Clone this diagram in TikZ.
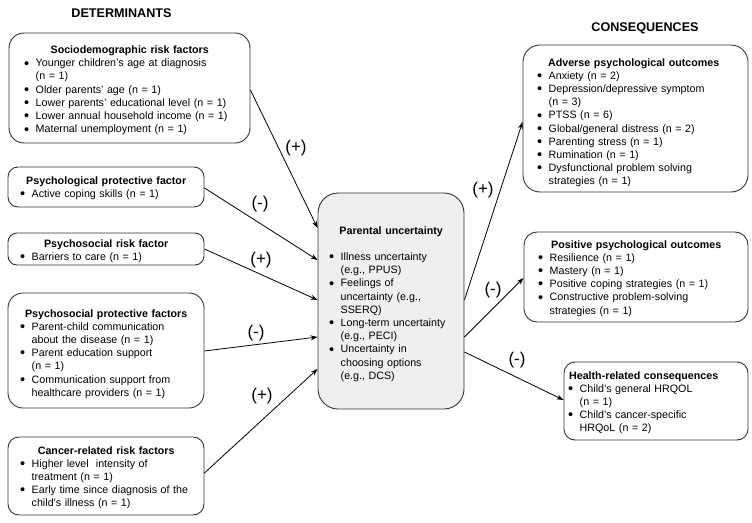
\documentclass[tikz,border=0pt]{standalone}
\usepackage{fontspec}
\setmainfont{Liberation Sans}
\usetikzlibrary{arrows.meta}
\newcommand{\bxtitle}[1]{{\centering\bfseries #1\par}}
\newcommand{\bxbullet}{\raisebox{-1.3pt}{\fontsize{14.5}{13}\selectfont\textbullet}}
\newcommand{\bxitem}[1]{\hangindent=11.5pt\hangafter=1\noindent\makebox[11.5pt][l]{\bxbullet}#1\par}
\definecolor{edgegray}{HTML}{333333}
\definecolor{centerfill}{HTML}{EFEFF1}
\begin{document}
\begin{tikzpicture}[x=1pt,y=-1pt,
  box/.style={draw=edgegray, line width=0.9pt, rectangle, inner sep=0pt},
  txt/.style={inner sep=0pt, anchor=base west, align=left,
    font=\fontsize{10.7}{13.2}\selectfont},
  head/.style={inner sep=0pt, anchor=base, font=\fontsize{12.6}{14}\selectfont\bfseries},
  sign/.style={inner sep=0pt, font=\fontsize{17}{19}\selectfont},
  arr/.style={line width=0.8pt, -{Stealth[length=7pt,width=5pt]}}]
\useasboundingbox (0,0) rectangle (752,522);

% headings
\node[head] (hd) at (121.5,17) {DETERMINANTS};
\node[head] (hc) at (645,31) {CONSEQUENCES};

% boxes
\node[box, rounded corners=15pt, minimum width=241pt, minimum height=110pt] (b1) at (129.5,88) {};
\node[box, rounded corners=10pt, minimum width=196pt, minimum height=40pt] (b2) at (106,187) {};
\node[box, rounded corners=9pt, minimum width=196pt, minimum height=32pt] (b3) at (106,249) {};
\node[box, rounded corners=15pt, minimum width=196pt, minimum height=115pt] (b4) at (106,350.5) {};
\node[box, rounded corners=11pt, minimum width=196pt, minimum height=78pt] (b5) at (106,476) {};
\node[box, fill=centerfill, rounded corners=20pt, minimum width=146pt, minimum height=216pt] (c) at (391,301) {};
\node[box, rounded corners=17pt, minimum width=225pt, minimum height=147pt] (ra) at (635.5,118.5) {};
\node[box, rounded corners=13pt, minimum width=224pt, minimum height=90pt] (rp) at (636,277) {};
\node[box, rounded corners=11pt, minimum width=184pt, minimum height=78pt] (rh) at (656,401) {};

% texts
\node[txt, text width=211pt] (t1) at (24,53.5) {\bxtitle{Sociodemographic risk factors}%
\bxitem{Younger children's age at diagnosis\newline (n = 1)}%
\bxitem{Older parents' age (n = 1)}%
\bxitem{Lower parents' educational level (n = 1)}%
\bxitem{Lower annual household income (n = 1)}%
\bxitem{Maternal unemployment (n = 1)}};

\node[txt, text width=172pt] (t2) at (20,184) {\bxtitle{Psychological protective factor}%
\bxitem{Active coping skills (n = 1)}};

\node[txt, text width=172pt] (t3) at (20,247) {\bxtitle{Psychosocial risk factor}%
\bxitem{Barriers to care (n = 1)}};

\node[txt, text width=172pt] (t4) at (20,317) {\bxtitle{Psychosocial protective factors}%
\bxitem{Parent-child communication\newline about the disease (n = 1)}%
\bxitem{Parent education support\newline (n = 1)}%
\bxitem{Communication support from\newline healthcare providers (n = 1)}};

\node[txt, text width=172pt] (t5) at (20,454) {\bxtitle{Cancer-related risk factors}%
\bxitem{Higher level~ intensity of\newline treatment (n = 1)}%
\bxitem{Early time since diagnosis of the\newline child's illness (n = 1)}};

\node[txt, text width=124pt] (tc) at (329,234) {\bxtitle{Parental uncertainty}\vspace{13.2pt}%
\bxitem{Illness uncertainty\newline (e.g., PPUS)}%
\bxitem{Feelings of\newline uncertainty (e.g.,\newline SSERQ)}%
\bxitem{Long-term uncertainty\newline (e.g., PECI)}%
\bxitem{Uncertainty in\newline choosing options\newline (e.g., DCS)}};

\node[txt, text width=193pt] (ta) at (537,66) {\bxtitle{Adverse psychological outcomes}%
\bxitem{Anxiety (n = 2)}%
\bxitem{Depression/depressive symptom\newline (n = 3)}%
\bxitem{PTSS (n = 6)}%
\bxitem{Global/general distress (n = 2)}%
\bxitem{Parenting stress (n = 1)}%
\bxitem{Rumination (n = 1)}%
\bxitem{Dysfunctional problem solving\newline strategies (n = 1)}};

\node[txt, text width=196pt] (tp) at (538,248) {\bxtitle{Positive psychological outcomes}%
\bxitem{Resilience (n = 1)}%
\bxitem{Mastery (n = 1)}%
\bxitem{Positive coping strategies (n = 1)}%
\bxitem{Constructive problem-solving\newline strategies (n = 1)}};

\node[txt, text width=151pt] (th) at (568,379) {\bxtitle{Health-related consequences}%
\bxitem{Child's general HRQOL\newline (n = 1)}%
\bxitem{Child's cancer-specific\newline HRQoL (n = 2)}};

% connectors
\draw[arr] ([yshift=-2pt]b1.east) -- ([yshift=73pt]c.west);
\draw[arr] ([yshift=-1pt]b2.east) -- ([yshift=41pt]c.west);
\draw[arr] (b3.east) -- ([yshift=1pt]c.west);
\draw[arr] ([yshift=-0.5pt]b4.east) -- ([yshift=-36pt]c.west);
\draw[arr] ([yshift=3pt]b5.east) -- ([yshift=-68pt]c.west);
\draw[arr] ([yshift=1pt]c.east) -- ([yshift=-3.5pt]ra.west);
\draw[arr] ([yshift=-36pt]c.east) -- ([yshift=-1pt]rp.west);
\draw[arr] ([yshift=-51pt]c.east) -- ([yshift=1pt]rh.west);

% signs
\node[sign] (s1) at (296,148) {(+)};
\node[sign] (s2) at (260,204) {(-)};
\node[sign] (s3) at (261,260) {(+)};
\node[sign] (s4) at (256,333) {(-)};
\node[sign] (s5) at (262,396) {(+)};
\node[sign] (s6) at (483,190) {(+)};
\node[sign] (s7) at (493,290) {(-)};
\node[sign] (s8) at (517,360) {(-)};
\end{tikzpicture}
\end{document}
